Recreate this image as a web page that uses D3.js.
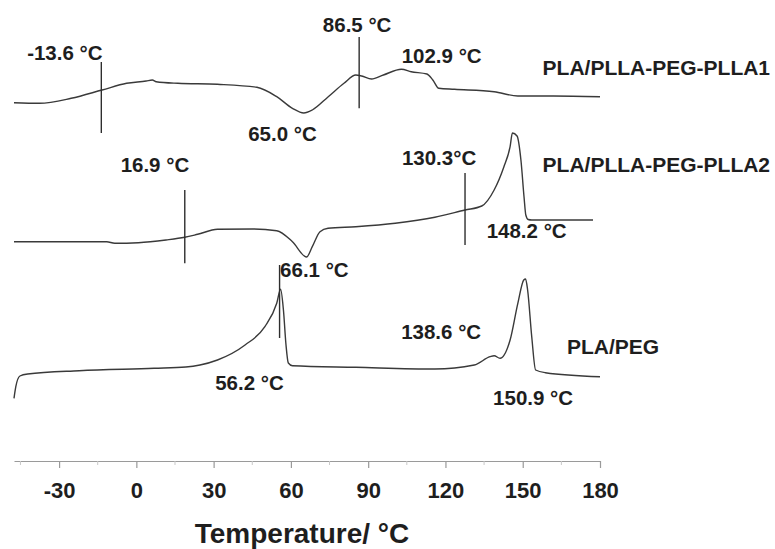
<!DOCTYPE html>
<html>
<head>
<meta charset="utf-8">
<script src="https://cdn.jsdelivr.net/npm/d3@7/dist/d3.min.js"></script>
<style>
  html, body { margin: 0; padding: 0; background: #ffffff; }
  svg { display: block; }
  text { font-family: "Liberation Sans", Arial, sans-serif; fill: #1e1e1e; }
</style>
</head>
<body>
<svg id="chart" width="775" height="549"></svg>
<script>
// ---------- DATA (temperature in °C, heat flow in arbitrary units) ----------
const tickValues = [-30, 0, 30, 60, 90, 120, 150, 180];
const tickLabels = ["-30", "0", "30", "60", "90", "120", "150", "180"];
const minorTicks = [-45, -15, 15, 45, 75, 105, 135, 165];
const axisTitle = "Temperature/ °C";

const seriesNames = ["PLA/PLLA-PEG-PLLA1", "PLA/PLLA-PEG-PLLA2", "PLA/PEG"];

const tempPLLA1 = [-47.5, -37.6, -25.3, -13.3, -3.8, 3.8, 6.2, 7.7, 16.1, 31.5, 46.8, 54.5, 60.6, 65.0, 68.3, 74.5, 80.6, 85.2, 87.5, 91.3, 95.9, 102.9, 106.7, 112.8, 115.1, 117.4, 123.5, 138.9, 148.1, 161.9, 180.0];
const heatPLLA1 = [358.3, 357.7, 362.7, 371.0, 377.7, 380.0, 381.0, 379.3, 377.7, 376.7, 373.7, 364.3, 352.7, 348.0, 351.0, 364.3, 377.7, 386.0, 385.0, 382.0, 386.0, 391.7, 389.3, 387.0, 381.0, 372.7, 371.7, 369.3, 365.0, 365.0, 364.3];

const tempPLLA2 = [-47.5, -29.9, -11.5, -8.4, 0.8, 11.5, 18.8, 23.8, 31.5, 45.3, 54.5, 60.6, 66.1, 68.3, 71.3, 74.4, 85.2, 100.5, 115.9, 127.6, 134.1, 138.9, 142.7, 145.1, 146.0, 147.8, 149.3, 150.5, 151.2, 152.1, 153.5, 177.3];
const heatPLLA2 = [219.3, 219.3, 219.3, 217.7, 218.3, 221.0, 223.7, 226.7, 231.7, 232.0, 230.3, 219.3, 204.0, 214.3, 229.3, 232.7, 234.3, 237.7, 243.7, 251.0, 255.0, 271.0, 294.3, 314.3, 328.0, 325.0, 301.0, 264.3, 246.0, 241.5, 241.0, 241.0];

const tempPEG = [-47.5, -46.8, -45.2, -42.2, -22.2, 6.9, 19.2, 24.7, 31.5, 42.2, 49.9, 54.5, 56.0, 57.1, 58.1, 59.0, 60.6, 85.2, 115.9, 131.2, 137.3, 138.9, 141.2, 145.1, 148.1, 150.4, 151.1, 151.9, 153.5, 155.0, 158.8, 180.0];
const heatPEG = [62.7, 74.3, 85.0, 87.0, 90.3, 92.7, 94.0, 96.0, 101.0, 116.0, 134.3, 157.7, 171.7, 151.0, 116.0, 98.0, 95.3, 93.7, 92.0, 96.0, 104.3, 105.3, 102.7, 121.0, 157.7, 181.0, 182.0, 171.0, 124.3, 91.0, 88.3, 84.3];

// vertical marker lines: temperature, top and bottom heat-flow values
const markerTemps = [-13.6, 86.5, 18.8, 127.6, 55.6];
const markerTops = [399, 424, 271, 288, 196];
const markerBottoms = [328, 352.7, 197.7, 216, 123];

// annotation texts with anchor (temperature, heat flow)
const annoTexts = ["-13.6 °C", "86.5 °C", "102.9 °C", "65.0 °C", "16.9 °C", "130.3°C", "148.2 °C", "66.1 °C", "56.2 °C", "138.6 °C", "150.9 °C"];
const annoTemps = [-42.4, 72.4, 103.0, 43.4, -6.1, 103.1, 136.0, 55.8, 30.6, 102.8, 138.5];
const annoHeats = [401, 429.3, 398, 320.3, 288.7, 296, 222.7, 184.3, 71, 121.7, 56];

const labelTemps = [157.7, 157.7, 167.2];
const labelHeats = [386, 289, 107];

// ---------- DRAW ----------
const svg = d3.select("#chart");
const x = d3.scaleLinear().domain([-47.5, 180]).range([14, 600]);
const y = d3.scaleLinear().domain([0, 460]).range([461, 1]);

const series = [
  {t: tempPLLA1, h: heatPLLA1},
  {t: tempPLLA2, h: heatPLLA2},
  {t: tempPEG, h: heatPEG}
];

const line = d3.line()
  .x(d => x(d[0]))
  .y(d => y(d[1]))
  .curve(d3.curveMonotoneX);

svg.append("g").selectAll("path")
  .data(series)
  .join("path")
  .attr("d", s => line(s.t.map((t, i) => [t, s.h[i]])))
  .attr("fill", "none")
  .attr("stroke", "#3a3a3a")
  .attr("stroke-width", 1.4)
  .attr("stroke-linejoin", "round");

// markers
svg.append("g").selectAll("line")
  .data(markerTemps)
  .join("line")
  .attr("x1", d => x(d)).attr("x2", d => x(d))
  .attr("y1", (d, i) => y(markerTops[i]))
  .attr("y2", (d, i) => y(markerBottoms[i]))
  .attr("stroke", "#2e2e2e")
  .attr("stroke-width", 1.4);

// annotations
svg.append("g").selectAll("text")
  .data(annoTexts)
  .join("text")
  .attr("x", (d, i) => x(annoTemps[i]))
  .attr("y", (d, i) => y(annoHeats[i]))
  .attr("font-size", 20.5)
  .attr("font-weight", "bold")
  .attr("fill", "#262626")
  .text(d => d);

// series labels
svg.append("g").selectAll("text")
  .data(seriesNames)
  .join("text")
  .attr("x", (d, i) => x(labelTemps[i]))
  .attr("y", (d, i) => y(labelHeats[i]))
  .attr("font-size", 21)
  .attr("font-weight", "bold")
  .attr("fill", "#1e1e1e")
  .text(d => d);

// x axis
const axisY = 461;
const axis = d3.axisBottom(x)
  .tickValues(tickValues)
  .tickSize(7)
  .tickSizeOuter(0)
  .tickFormat((d, i) => tickLabels[i]);
const gAxis = svg.append("g")
  .attr("transform", `translate(0,${axisY})`)
  .call(axis);
gAxis.select(".domain").attr("stroke", "#9a9a9a").attr("stroke-width", 1.2);
gAxis.selectAll(".tick line").attr("stroke", "#9a9a9a").attr("stroke-width", 1.2);
gAxis.selectAll(".tick text")
  .attr("y", 37)
  .attr("dy", null)
  .attr("font-size", 22)
  .attr("font-weight", "bold")
  .attr("font-family", "'Liberation Sans', Arial, sans-serif")
  .attr("fill", "#1e1e1e");

svg.append("g").attr("transform", `translate(0,${axisY})`)
  .selectAll("line")
  .data(minorTicks)
  .join("line")
  .attr("x1", d => x(d)).attr("x2", d => x(d))
  .attr("y1", 0).attr("y2", 4)
  .attr("stroke", "#c8c8c8")
  .attr("stroke-width", 1);

svg.append("text")
  .attr("x", 302)
  .attr("y", 543)
  .attr("text-anchor", "middle")
  .attr("font-size", 28)
  .attr("font-weight", "bold")
  .attr("fill", "#1e1e1e")
  .text(axisTitle);
</script>
</body>
</html>
